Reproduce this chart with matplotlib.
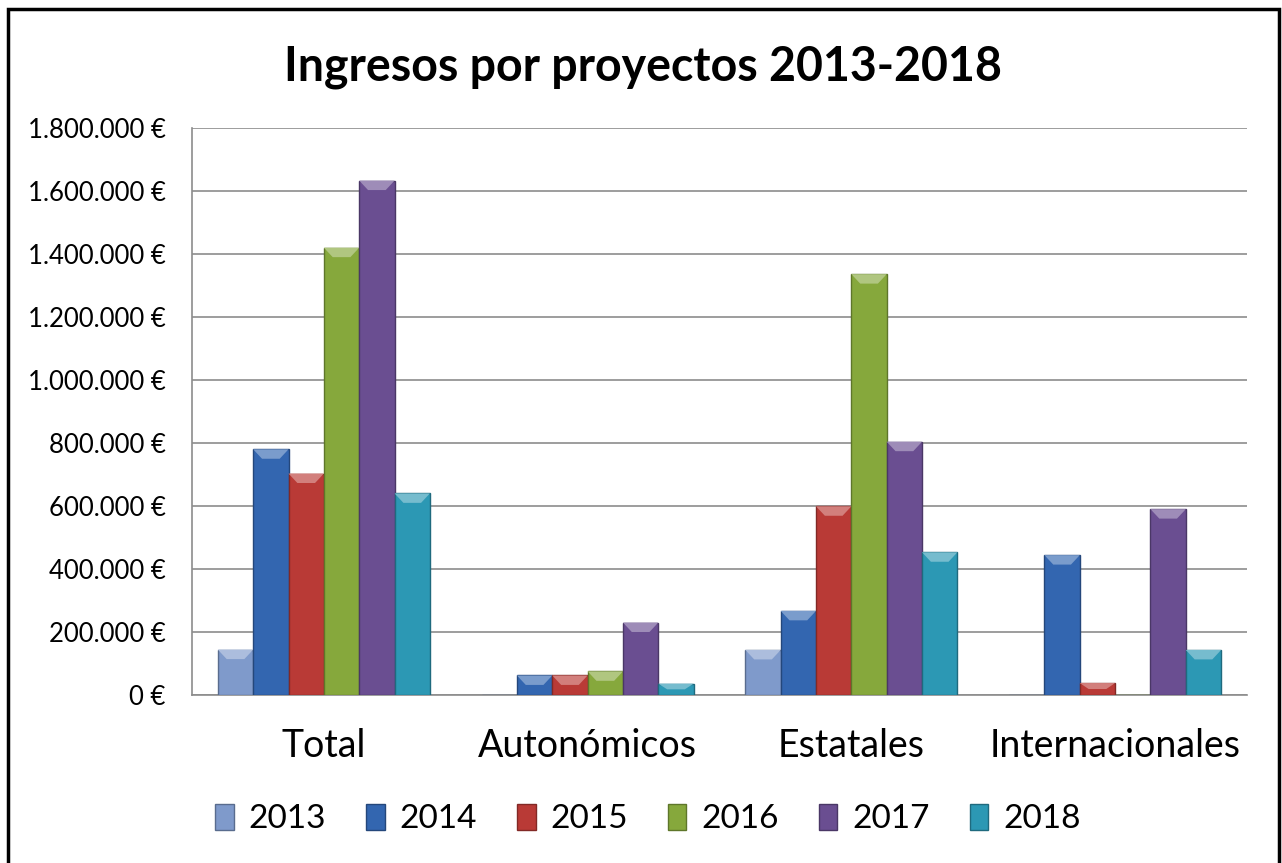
import matplotlib
matplotlib.use("Agg")
import matplotlib.pyplot as plt
from matplotlib.patches import Rectangle, Polygon
import matplotlib.colors as mcolors
import numpy as np

categories = ["Total", "Autonómicos", "Estatales", "Internacionales"]
years = ["2013", "2014", "2015", "2016", "2017", "2018"]
values = {
    "2013": [144000, 0, 143000, 0],
    "2014": [780000, 62000, 267000, 444000],
    "2015": [703000, 62000, 599000, 38000],
    "2016": [1420000, 75000, 1336000, 0],
    "2017": [1633000, 230000, 804000, 590000],
    "2018": [640000, 36000, 453000, 143000],
}
colors = ["#7f9acb", "#3366b0", "#b93a36", "#86a83c", "#6a4e91", "#2c98b4"]
yticks = [0, 200000, 400000, 600000, 800000, 1000000, 1200000, 1400000, 1600000, 1800000]
title = "Ingresos por proyectos 2013-2018"

plt.rcParams['font.family'] = ['Lato', 'DejaVu Sans']

W, H = 1282, 863
fig = plt.figure(figsize=(W / 100, H / 100), dpi=100)
ax = fig.add_axes([192 / W, 1 - 695 / H, (1247 - 192) / W, (695 - 128) / H])

def fmt(v):
    s = f"{int(v):,}".replace(",", ".")
    return s + " €"

x = np.arange(len(categories))
bw = 0.134
n = len(years)
for i, (yr, col) in enumerate(zip(years, colors)):
    off = (i - (n - 1) / 2) * bw
    vals = values[yr]
    rgb = mcolors.to_rgb(col)
    dark = tuple(c * 0.7 for c in rgb)
    light = tuple(min(1, c + (1 - c) * 0.35) for c in rgb)
    bars = ax.bar(x + off, vals, bw, color=col, edgecolor=dark, linewidth=1.0,
                  label=yr, zorder=3)
    for b in bars:
        h = b.get_height()
        if h <= 0:
            continue
        bx, bwid = b.get_x(), b.get_width()
        bev = min(h * 0.5, 30000)
        ax.add_patch(Polygon([(bx, h), (bx + bwid, h), (bx + bwid * 0.75, h - bev),
                              (bx + bwid * 0.25, h - bev)], closed=True,
                             facecolor=light, edgecolor='none', zorder=4))

ax.set_xlim(-0.5, 3.5)
ax.set_ylim(0, 1800000)
ax.set_yticks(yticks)
ax.set_yticklabels([fmt(v) for v in yticks], fontsize=18.5)
ax.set_xticks(x)
ax.set_xticklabels(categories, fontsize=27)
ax.tick_params(axis='y', length=0, pad=19)
ax.tick_params(axis='x', length=0, pad=24)
ax.grid(axis='y', color='#8c8c8c', linewidth=1.2, zorder=0)
for s in ['top', 'right']:
    ax.spines[s].set_visible(False)
ax.spines['left'].set_color('#8c8c8c')
ax.spines['bottom'].set_color('#8c8c8c')
ax.spines['left'].set_linewidth(1.2)
ax.spines['bottom'].set_linewidth(1.2)

fig.text(643 / W, 1 - 67 / H, title, ha='center', va='center', fontsize=33.5,
         fontweight='bold')

handles = [Rectangle((0, 0), 1, 1, facecolor=c, edgecolor=tuple(v * 0.7 for v in mcolors.to_rgb(c)))
           for c in colors]
fig.legend(handles, years, loc='center', bbox_to_anchor=(648 / W, 1 - 819 / H), ncol=6,
           frameon=False, fontsize=24, handlelength=0.55, handleheight=0.85,
           handletextpad=0.45, columnspacing=1.2)

fig.patches.append(Rectangle((8 / W, -0.05), (1279 - 8) / W, 1.05 - 9 / H,
                             transform=fig.transFigure, fill=False, edgecolor='black',
                             linewidth=2.5))

fig.savefig("out.png", dpi=100)
